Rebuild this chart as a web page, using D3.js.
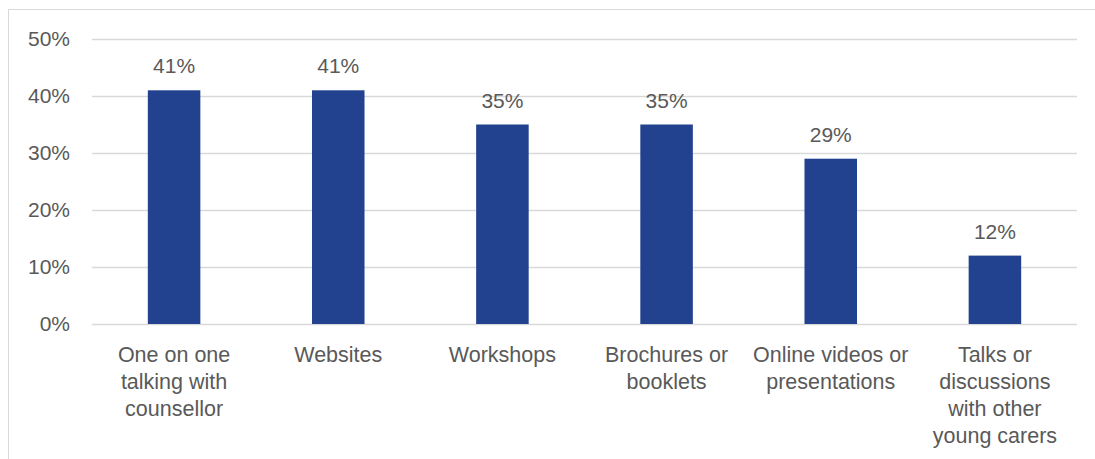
<!DOCTYPE html>
<html>
<head>
<meta charset="utf-8">
<script src="https://cdn.jsdelivr.net/npm/d3@7/dist/d3.min.js"></script>
<style>
    html, body { margin: 0; padding: 0; background: #ffffff; }
    #chart { width: 1095px; height: 459px; }
    text { font-family: "Liberation Sans", Arial, sans-serif; fill: #595959; }
</style>
</head>
<body>
<div id="chart"></div>
<script>
// Categories (each label split into the lines shown in the chart)
const categories = [
    ['One on one', 'talking with', 'counsellor'],
    ['Websites'],
    ['Workshops'],
    ['Brochures or', 'booklets'],
    ['Online videos or', 'presentations'],
    ['Talks or', 'discussions', 'with other', 'young carers']
];
const values = [41, 41, 35, 35, 29, 12];
const yTicks = [0, 10, 20, 30, 40, 50];

const width = 1095;
const height = 459;
const margin = { top: 39, right: 18, bottom: 135, left: 92 };
const chartWidth = width - margin.left - margin.right;
const chartHeight = height - margin.top - margin.bottom;

const svg = d3.select('#chart')
    .append('svg')
    .attr('width', width)
    .attr('height', height);

// Outer frame (only top and left edges are visible in the crop)
svg.append('path')
    .attr('d', `M8.5,${height} L8.5,9.5 L${width},9.5`)
    .attr('fill', 'none')
    .attr('stroke', '#d9d9d9')
    .attr('stroke-width', 1);

const g = svg.append('g')
    .attr('transform', `translate(${margin.left},${margin.top})`);

const xScale = d3.scaleBand()
    .domain(d3.range(categories.length))
    .range([0, chartWidth])
    .paddingInner(0.68)
    .paddingOuter(0.34);

const yScale = d3.scaleLinear()
    .domain([0, 50])
    .range([chartHeight, 0]);

// Grid lines
g.append('g')
    .attr('class', 'grid')
    .call(d3.axisLeft(yScale)
        .tickValues(yTicks)
        .tickSize(-chartWidth)
        .tickFormat(''))
    .call(s => s.select('.domain').remove())
    .selectAll('line')
    .attr('stroke', '#d9d9d9')
    .attr('stroke-width', 1.3);

// Y axis labels
g.append('g')
    .call(d3.axisLeft(yScale)
        .tickValues(yTicks)
        .tickSize(0)
        .tickPadding(22)
        .tickFormat(d => d + '%'))
    .call(s => s.select('.domain').remove())
    .selectAll('text')
    .attr('font-size', '21px')
    .attr('fill', '#595959');

// Bars
g.selectAll('.bar')
    .data(values)
    .enter()
    .append('rect')
    .attr('class', 'bar')
    .attr('x', (d, i) => xScale(i))
    .attr('y', d => yScale(d))
    .attr('width', xScale.bandwidth())
    .attr('height', d => chartHeight - yScale(d))
    .attr('fill', '#22418e');

// Value labels
g.selectAll('.value-label')
    .data(values)
    .enter()
    .append('text')
    .attr('class', 'value-label')
    .attr('x', (d, i) => xScale(i) + xScale.bandwidth() / 2)
    .attr('y', d => yScale(d) - 17)
    .attr('text-anchor', 'middle')
    .attr('font-size', '21px')
    .text(d => d + '%');

// Category labels
const catLabels = g.selectAll('.cat-label')
    .data(categories)
    .enter()
    .append('text')
    .attr('class', 'cat-label')
    .attr('x', (d, i) => xScale(i) + xScale.bandwidth() / 2)
    .attr('y', chartHeight + 38)
    .attr('text-anchor', 'middle')
    .attr('font-size', '21.5px');

catLabels.selectAll('tspan')
    .data((d, i) => d.map(line => ({ line, i })))
    .enter()
    .append('tspan')
    .attr('x', d => xScale(d.i) + xScale.bandwidth() / 2)
    .attr('dy', (d, j) => j === 0 ? 0 : 27)
    .text(d => d.line);
</script>
</body>
</html>
